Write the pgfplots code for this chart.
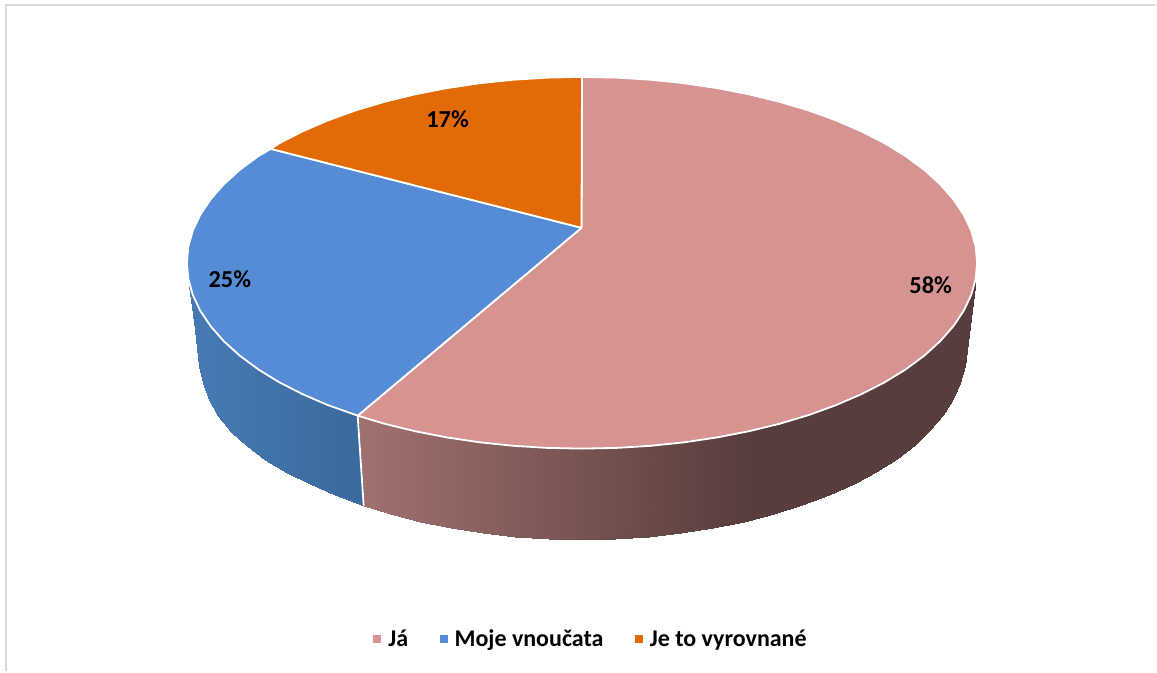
\documentclass[border=0pt]{standalone}
\usepackage{pgfplots}
\pgfplotsset{compat=1.18}
\usepackage{fontspec}
\setmainfont{Carlito}

\definecolor{jaColor}{RGB}{215,147,146}
\definecolor{vnoucataColor}{RGB}{85,140,213}
\definecolor{vyrovnaneColor}{RGB}{226,107,8}
\definecolor{frameColor}{RGB}{218,218,218}

% outer wall of the pie: top row = upper rim, bottom row = lower rim (pixel coordinates)
\pgfplotstableread{
x y
358.0 416.0
384.7 424.1
415.4 431.6
447.2 437.8
480.1 442.7
513.8 446.2
548.0 448.3
582.5 449.0
617.0 448.3
651.2 446.2
684.9 442.7
717.8 437.8
749.6 431.6
780.3 424.1
809.4 415.4
836.7 405.5
862.2 394.5
885.5 382.6
906.5 369.7
925.0 356.0
940.9 341.6
954.1 326.6
964.5 311.1
972.0 295.3
975.0 286.0
976.5 279.0
364.0 506.0
390.2 514.5
420.0 522.2
451.0 528.5
483.0 533.5
515.7 537.1
549.0 539.3
582.5 540.0
616.0 539.3
649.3 537.1
682.0 533.5
714.0 528.5
745.0 522.2
774.8 514.5
803.0 505.6
829.7 495.5
854.4 484.4
877.0 472.1
897.5 459.0
915.5 445.0
931.0 430.3
943.8 415.0
953.9 399.2
961.2 383.0
965.5 366.6
967.0 350.0
}\wallJa
\pgfplotstableread{
x y
188.5 279.0
190.0 286.0
193.0 295.3
200.5 311.1
210.9 326.6
224.1 341.6
240.0 356.0
258.5 369.7
279.5 382.6
302.8 394.5
328.3 405.5
358.0 416.0
198.0 350.0
199.5 366.6
203.3 383.0
209.5 400.0
218.5 416.0
231.0 432.0
247.0 446.5
265.5 460.5
287.0 473.0
310.6 484.4
335.3 495.5
364.0 506.0
}\wallVnoucata

\begin{document}
\begin{tikzpicture}
\begin{axis}[
  scale only axis,
  width=578.5pt,height=336pt,
  xmin=0,xmax=1157,ymin=0,ymax=672,
  y dir=reverse,
  hide axis,
  clip=false,
  point meta min=0,point meta max=1150,
  colormap={wallja}{rgb255(0pt)=(163,114,112) rgb255(350pt)=(163,114,112) rgb255(750pt)=(87,61,60) rgb255(1150pt)=(87,61,60)},
  colormap={wallvn}{rgb255(0pt)=(74,126,187) rgb255(150pt)=(74,126,187) rgb255(350pt)=(60,106,159) rgb255(1150pt)=(60,106,159)},
  font=\fontsize{12.2}{14}\selectfont\bfseries,
  legend style={
    at={(axis cs:592.5,640)},anchor=center,
    draw=none,fill=none,
    legend columns=-1,
    font=\fontsize{12}{14}\selectfont\bfseries,
    /tikz/every even column/.append style={column sep=13.75pt},
    /tikz/every odd column/.append style={column sep=1.5pt},
  },
  legend image code/.code={\fill[#1,draw=none] (0pt,-2pt) rectangle (4pt,2pt);},
]
% chart frame, only left and top are visible
\addplot[forget plot,frameColor,line width=1pt] coordinates {(6.5,672) (6.5,5.5) (1157,5.5)};

% walls
\addplot[forget plot,surf,shader=interp,colormap name=wallja,mesh/cols=26,point meta=x] table[x=x,y=y] {\wallJa};
\addplot[forget plot,surf,shader=interp,colormap name=wallvn,mesh/cols=12,point meta=x] table[x=x,y=y] {\wallVnoucata};
\addplot[forget plot,white,line width=0.9pt] coordinates {(358,416) (364,506)};

% top faces
\addplot[fill=jaColor,draw=white,line width=0.9pt,line join=round] coordinates {
(582,228) (582.5,77) (617,77.7) (651.2,79.8) (684.9,83.3) (717.8,88.2) (749.6,94.4)
(780.3,101.9) (809.4,110.6) (836.7,120.5) (862.2,131.5) (885.5,143.4) (906.5,156.3)
(925,170) (940.9,184.4) (954.1,199.4) (964.5,214.9) (972,230.7) (976.5,246.8) (978,263)
(976.5,279.2) (972,295.3) (964.5,311.1) (954.1,326.6) (940.9,341.6) (925,356)
(906.5,369.7) (885.5,382.6) (862.2,394.5) (836.7,405.5) (809.4,415.4) (780.3,424.1)
(749.6,431.6) (717.8,437.8) (684.9,442.7) (651.2,446.2) (617,448.3) (582.5,449)
(548,448.3) (513.8,446.2) (480.1,442.7) (447.2,437.8) (415.4,431.6) (384.7,424.1)
(358,416) (582,228)
};
\addlegendentry{Já}
\addplot[fill=vnoucataColor,draw=white,line width=0.9pt,line join=round] coordinates {
(582,228) (358,416) (328.3,405.5) (302.8,394.5) (279.5,382.6) (258.5,369.7) (240,356)
(224.1,341.6) (210.9,326.6) (200.5,311.1) (193,295.3) (188.5,279.2) (187,263)
(188.5,246.8) (193,230.7) (200.5,214.9) (210.9,199.4) (224.1,184.4) (240,170)
(258.5,156.3) (271,149) (582,228)
};
\addlegendentry{Moje vnoučata}
\addplot[fill=vyrovnaneColor,draw=white,line width=0.9pt,line join=round] coordinates {
(582,228) (271,149) (279.5,143.4) (302.8,131.5) (328.3,120.5) (355.6,110.6) (384.7,101.9)
(415.4,94.4) (447.2,88.2) (480.1,83.3) (513.8,79.8) (548,77.7) (582.5,77) (582,228)
};
\addlegendentry{Je to vyrovnané}

\node at (axis cs:931.5,285) {58\%};
\node at (axis cs:230,279) {25\%};
\node at (axis cs:448,119) {17\%};
\end{axis}
\path[use as bounding box] (0,0) rectangle (578.5pt,336pt);
\end{tikzpicture}
\end{document}
